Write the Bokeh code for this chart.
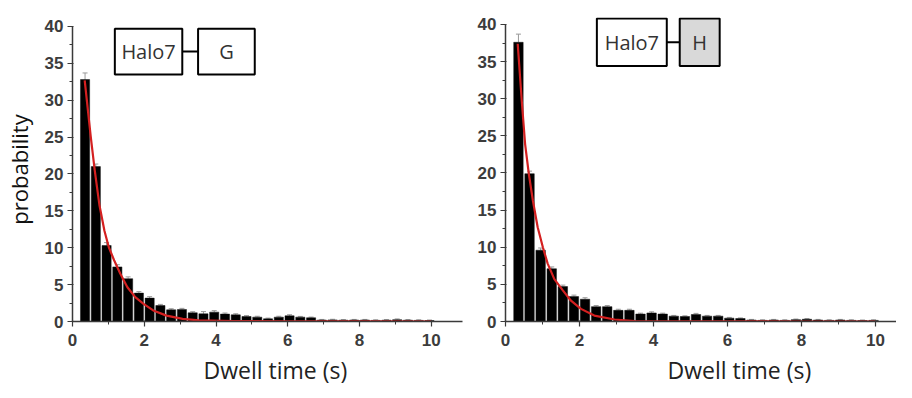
from bokeh.plotting import figure
from bokeh.layouts import row
from bokeh.models import Range1d, FixedTicker, ColumnDataSource, Whisker, TeeHead, Label, BoxAnnotation, Title
from bokeh.embed import file_html
from bokeh.resources import INLINE

# ---------------- data ----------------
bin_centers = [0.35, 0.65, 0.95, 1.25, 1.55, 1.85, 2.15, 2.45, 2.75, 3.05, 3.35,
               3.65, 3.95, 4.25, 4.55, 4.85, 5.15, 5.45, 5.75, 6.05, 6.35, 6.65,
               6.95, 7.25, 7.55, 7.85, 8.15, 8.45, 8.75, 9.05, 9.35, 9.65, 9.95]

g_prob = [32.8, 21.0, 10.3, 7.4, 5.8, 3.85, 3.17, 2.17, 1.58, 1.63, 1.18,
          1.04, 1.27, 1.0, 0.9, 0.68, 0.59, 0.36, 0.59, 0.77, 0.59, 0.5,
          0.2, 0.22, 0.18, 0.2, 0.2, 0.15, 0.18, 0.25, 0.18, 0.15, 0.12]
g_err = [0.9, 0.35, 0.4, 0.3, 0.25, 0.2, 0.2, 0.15, 0.15, 0.15, 0.15,
         0.3, 0.2, 0.15, 0.15, 0.12, 0.12, 0.1, 0.12, 0.15, 0.1, 0.1,
         0.08, 0.08, 0.08, 0.08, 0.08, 0.08, 0.08, 0.1, 0.08, 0.08, 0.08]

h_prob = [37.6, 19.9, 9.6, 7.1, 4.7, 3.35, 3.0, 2.0, 2.0, 1.5, 1.5,
          1.0, 1.15, 1.0, 0.72, 0.67, 0.94, 0.72, 0.72, 0.45, 0.4, 0.2,
          0.15, 0.2, 0.15, 0.25, 0.3, 0.2, 0.15, 0.2, 0.15, 0.12, 0.15]
h_err = [1.1, 0.35, 0.3, 0.25, 0.2, 0.2, 0.2, 0.15, 0.15, 0.15, 0.15,
         0.12, 0.15, 0.12, 0.1, 0.1, 0.15, 0.1, 0.1, 0.1, 0.08, 0.08,
         0.08, 0.08, 0.08, 0.08, 0.1, 0.08, 0.08, 0.08, 0.08, 0.08, 0.08]

# fitted curves
g_fit_x = [0.34, 0.51, 0.62, 0.75, 0.89, 1.01, 1.16, 1.33, 1.53, 1.75, 1.98,
           2.25, 2.62, 3.07, 3.52, 4.5, 6.0, 8.0, 10.0]
g_fit_y = [32.7, 25.0, 20.5, 15.8, 12.3, 10.1, 8.3, 6.5, 4.65, 3.3, 2.4,
           1.5, 0.8, 0.36, 0.14, 0.05, 0.02, 0.01, 0.0]
h_fit_x = [0.33, 0.44, 0.53, 0.63, 0.74, 0.87, 1.01, 1.14, 1.32, 1.55, 1.77,
           2.04, 2.4, 2.95, 3.49, 4.5, 6.0, 8.0, 10.0]
h_fit_y = [37.4, 29.7, 23.9, 19.9, 16.3, 12.7, 10.0, 7.8, 5.7, 4.2, 2.8,
           1.7, 0.8, 0.27, 0.05, 0.02, 0.01, 0.0, 0.0]

y_major = [0, 5, 10, 15, 20, 25, 30, 35, 40]
y_minor = [2.5, 7.5, 12.5, 17.5, 22.5, 27.5, 32.5, 37.5]
x_major = [0, 2, 4, 6, 8, 10]
x_minor = [1, 3, 5, 7, 9]

x_title = "Dwell time (s)"
y_title = "probability"

TXT = "#333333"
AX = "#3a3a3a"
FONT = "Open Sans"


def make_panel(width, xmax, ymax, border_left, border_right, probs, errs,
               fx, fy, ylabel, title_offset, boxes):
    p = figure(width=width, height=390, output_backend="svg", toolbar_location=None,
               x_range=Range1d(0, xmax), y_range=Range1d(0, ymax),
               min_border_left=border_left, min_border_right=border_right,
               min_border_top=17, min_border_bottom=69)
    p.outline_line_color = None
    p.grid.visible = False
    p.background_fill_color = "white"

    src = ColumnDataSource(dict(x=bin_centers, top=probs,
                                upper=[a + b for a, b in zip(probs, errs)]))
    p.add_layout(Whisker(base="x", upper="upper", lower="top", source=src,
                         line_color="#9a9a9a", line_width=1,
                         upper_head=TeeHead(size=5, line_color="#9a9a9a", line_width=1),
                         lower_head=None))
    p.vbar(x="x", top="top", bottom=0, width=0.255, source=src,
           fill_color="black", line_color="#111111", line_width=0.5)
    p.line(fx, fy, line_color="#d42020", line_width=2.2)

    for ax in (p.xaxis[0], p.yaxis[0]):
        ax.axis_line_color = AX
        ax.axis_line_width = 1.5
        ax.major_tick_line_color = AX
        ax.minor_tick_line_color = AX
        ax.major_tick_line_width = 1.2
        ax.minor_tick_line_width = 1
        ax.major_tick_out = 5
        ax.major_tick_in = 1
        ax.minor_tick_out = 3
        ax.minor_tick_in = 0
        ax.major_label_text_font = "Liberation Sans"
        ax.major_label_text_font_size = "17px"
        ax.major_label_text_font_style = "bold"
        ax.major_label_text_color = "#3c3c3c"

    p.xaxis.ticker = FixedTicker(ticks=x_major, minor_ticks=x_minor)
    p.yaxis.ticker = FixedTicker(ticks=y_major, minor_ticks=y_minor)
    p.xaxis.major_label_standoff = 7
    p.xaxis.axis_label_standoff = 0
    p.yaxis.major_label_standoff = 4
    p.yaxis.bounds = (0, 40)

    if ylabel:
        p.yaxis.axis_label = ylabel
        p.yaxis.axis_label_text_font = FONT
        p.yaxis.axis_label_text_font_size = "22px"
        p.yaxis.axis_label_text_font_style = "normal"
        p.yaxis.axis_label_text_color = "#111111"
        p.yaxis.axis_label_standoff = 8

    p.add_layout(Title(text=x_title, text_font=FONT, text_font_size="23px",
                       text_font_style="normal", text_color="#222222",
                       align="left", offset=title_offset, standoff=6), "below")

    for (l, r, t, b, fill, txt, cy) in boxes:
        p.add_layout(BoxAnnotation(left=l, right=r, top=t, bottom=b,
                                   fill_color=fill, fill_alpha=1.0,
                                   line_color="black", line_width=2, line_alpha=1.0))
        p.add_layout(Label(x=(l + r) / 2, y=cy, text=txt, text_font=FONT,
                           text_font_size="20px", text_color=TXT,
                           text_align="center", text_baseline="middle"))
    # connector between the two boxes
    (l1, r1, t1, b1, _, _, cy1), (l2, r2, t2, b2, _, _, _) = boxes
    p.segment(x0=[r1], y0=[cy1], x1=[l2], y1=[cy1], line_color="black", line_width=2)
    return p


left = make_panel(470, 10.87, 41.22, 63, 8, g_prob, g_err, g_fit_x, g_fit_y,
                  y_title, 131,
                  [(1.18, 3.06, 39.7, 33.5, "white", "Halo7", 36.6),
                   (3.50, 5.08, 39.7, 33.5, "white", "G", 36.6)])
right = make_panel(426, 10.57, 40.94, 35, 0, h_prob, h_err, h_fit_x, h_fit_y,
                   None, 162,
                   [(2.47, 4.36, 40.8, 34.4, "white", "Halo7", 37.6),
                    (4.71, 5.79, 40.8, 34.4, "#d9d9d9", "H", 37.6)])

layout = row(left, right)
open("out.html", "w").write(file_html(layout, INLINE))
